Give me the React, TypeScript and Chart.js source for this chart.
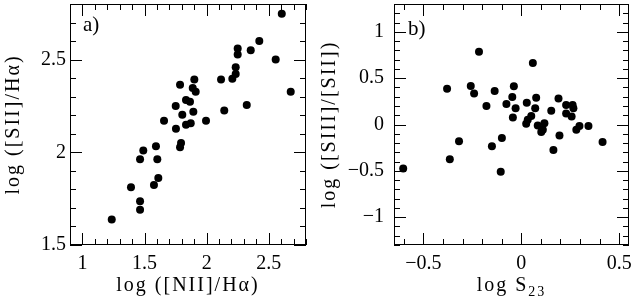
import React, { useEffect, useRef } from "react";
import { Chart, registerables } from "chart.js";

Chart.register(...registerables);

// Panel a) log([NII]/Hα) vs log([SII]/Hα)
const nIIHa = [
  2.605, 2.424, 2.355, 2.25, 2.25, 2.556, 2.234, 2.234, 2.207, 2.116,
  2.677, 1.901, 1.786, 1.888, 1.912, 1.834, 1.866, 1.751, 1.893, 1.804,
  2.142, 2.323, 1.657, 1.995, 1.753, 1.834, 1.872, 1.794, 1.786, 1.592,
  1.49, 1.464, 1.603, 1.611, 1.576, 1.391, 1.464, 1.464, 1.236,
];
const sIIHa = [
  2.747, 2.601, 2.551, 2.56, 2.527, 2.5, 2.459, 2.423, 2.397, 2.393,
  2.326, 2.393, 2.365, 2.347, 2.326, 2.282, 2.273, 2.25, 2.219, 2.202,
  2.225, 2.255, 2.17, 2.17, 2.127, 2.148, 2.157, 2.05, 2.027, 2.033,
  2.01, 1.962, 1.962, 1.861, 1.823, 1.811, 1.736, 1.69, 1.637,
];

// Panel b) log S23 vs log([SIII]/[SII])
const logS23 = [
  -0.216, 0.059, -0.379, -0.258, -0.241, -0.136, -0.038, -0.046, -0.178, -0.076,
  -0.029, 0.028, 0.076, 0.071, 0.051, -0.043, 0.033, 0.025, 0.19, 0.153,
  0.229, 0.262, 0.229, 0.257, 0.266, 0.297, 0.343, 0.281, 0.084, 0.118,
  0.11, 0.102, 0.195, 0.415, 0.164, -0.318, -0.365, -0.603, -0.15, -0.099,
  -0.105,
];
const sIIIsII = [
  0.785, 0.664, 0.387, 0.416, 0.334, 0.362, 0.412, 0.298, 0.199, 0.221,
  0.174, 0.234, 0.288, 0.174, 0.093, 0.075, 0.05, 0.008, 0.28, 0.149,
  0.21, 0.21, 0.12, 0.085, 0.174, -0.016, -0.017, -0.056, -0.011, 0.014,
  -0.056, -0.082, -0.12, -0.189, -0.274, -0.181, -0.376, -0.476, -0.234, -0.146,
  -0.511,
];

const xTicksA = [1, 1.5, 2, 2.5];
const xLabelsA = ["1", "1.5", "2", "2.5"];
const yTicksA = [1.5, 2, 2.5];
const yLabelsA = ["1.5", "2", "2.5"];
const xTicksB = [-0.5, 0, 0.5];
const xLabelsB = ["\u22120.5", "0", "0.5"];
const yTicksB = [-1, -0.5, 0, 0.5, 1];
const yLabelsB = ["\u22121", "\u22120.5", "0", "0.5", "1"];

const FONT = "'Liberation Serif', 'Times New Roman', serif";

const framePlugin = {
  id: "frame",
  afterDraw(chart: any, _args: any, opts: any) {
    const { ctx, chartArea } = chart;
    const { left, right, top, bottom } = chartArea;
    const xs = chart.scales.x;
    const ys = chart.scales.y;
    ctx.save();
    ctx.strokeStyle = "#000";
    ctx.lineWidth = 1;
    ctx.strokeRect(left + 0.5, top + 0.5, right - left - 1, bottom - top - 1);
    const drawAxisTicks = (scale: any, horizontal: boolean) => {
      const step = opts.minor;
      const i0 = Math.ceil(scale.min / step - 1e-6);
      const i1 = Math.floor(scale.max / step + 1e-6);
      for (let i = i0; i <= i1; i++) {
        const v = i * step;
        const q = v / opts.major;
        const isMajor = Math.abs(q - Math.round(q)) < 1e-6;
        const len = isMajor ? opts.majorLen : opts.minorLen;
        const p = Math.round(scale.getPixelForValue(v)) + 0.5;
        ctx.beginPath();
        if (horizontal) {
          ctx.moveTo(p, bottom);
          ctx.lineTo(p, bottom - len);
          ctx.moveTo(p, top);
          ctx.lineTo(p, top + len);
        } else {
          ctx.moveTo(left, p);
          ctx.lineTo(left + len, p);
          ctx.moveTo(right, p);
          ctx.lineTo(right - len, p);
        }
        ctx.stroke();
      }
    };
    drawAxisTicks(xs, true);
    drawAxisTicks(ys, false);

    ctx.fillStyle = "#000";
    // panel label
    ctx.font = `21px ${FONT}`;
    ctx.textBaseline = "middle";
    ctx.textAlign = "left";
    ctx.fillText(opts.label, left + opts.labelDx, top + opts.labelDy);

    // axis titles
    const cx = (left + right) / 2;
    const cy = (top + bottom) / 2;
    (ctx as any).letterSpacing = opts.spacing + "px";
    ctx.font = `${opts.titleSize}px ${FONT}`;
    // x title (with optional subscript)
    ctx.textBaseline = "alphabetic";
    ctx.textAlign = "left";
    const main = opts.xTitle as string;
    const sub = (opts.xSub || "") as string;
    const wMain = ctx.measureText(main).width;
    ctx.font = `${opts.subSize}px ${FONT}`;
    const wSub = sub ? ctx.measureText(sub).width : 0;
    const total = wMain + wSub;
    let x0 = cx - total / 2;
    ctx.font = `${opts.titleSize}px ${FONT}`;
    ctx.fillText(main, x0, opts.xTitleY);
    if (sub) {
      ctx.font = `${opts.subSize}px ${FONT}`;
      ctx.fillText(sub, x0 + wMain, opts.xTitleY + opts.subDy);
    }
    // y title
    ctx.font = `${opts.titleSize}px ${FONT}`;
    ctx.save();
    ctx.translate(opts.yTitleX, cy);
    ctx.rotate(-Math.PI / 2);
    ctx.textAlign = "center";
    ctx.textBaseline = "middle";
    ctx.fillText(opts.yTitle, 0, 0);
    ctx.restore();
    (ctx as any).letterSpacing = "0px";
    ctx.restore();
  },
};

function makeConfig(p: any) {
  const pts = (p.xs as number[]).map((x, i) => ({ x, y: p.ys[i] }));
  const labelFor = (ticks: number[], labels: string[]) => (v: any) => {
    const idx = ticks.findIndex((t) => Math.abs(t - Number(v)) < 1e-9);
    return idx >= 0 ? labels[idx] : "";
  };
  return {
    type: "scatter",
    data: {
      datasets: [
        {
          data: pts,
          pointRadius: 4,
          pointHoverRadius: 4,
          pointBackgroundColor: "#000",
          pointBorderColor: "#000",
          pointBorderWidth: 0,
        },
      ],
    },
    options: {
      animation: false,
      responsive: false,
      maintainAspectRatio: false,
      events: [],
      layout: { padding: { top: 1, right: p.rightPad, left: 0, bottom: 0 } },
      plugins: {
        legend: { display: false },
        tooltip: { enabled: false },
        frame: {
          minor: 0.1,
          major: 0.5,
          minorLen: 6,
          majorLen: 12,
          label: p.label,
          labelDx: p.labelDx,
          labelDy: p.labelDy,
          xTitle: p.xTitle,
          xSub: p.xSub,
          yTitle: p.yTitle,
          titleSize: 20,
          subSize: 14,
          subDy: 5,
          spacing: 2,
          xTitleY: 291,
          yTitleX: p.yTitleX,
        },
      },
      scales: {
        x: {
          type: "linear",
          min: p.xMin,
          max: p.xMax,
          grid: { display: false, drawTicks: false },
          border: { display: false },
          afterBuildTicks: (s: any) => {
            s.ticks = (p.xTicks as number[]).map((v) => ({ value: v }));
          },
          afterFit: (s: any) => {
            s.height = 55;
            s.paddingLeft = 0;
            s.paddingRight = 0;
          },
          ticks: {
            padding: 7,
            color: "#000",
            maxRotation: 0,
            autoSkip: false,
            font: { family: FONT, size: 20 },
            callback: labelFor(p.xTicks, p.xLabels),
          },
          title: { display: false },
        },
        y: {
          type: "linear",
          min: p.yMin,
          max: p.yMax,
          grid: { display: false, drawTicks: false },
          border: { display: false },
          afterBuildTicks: (s: any) => {
            s.ticks = (p.yTicks as number[]).map((v) => ({ value: v }));
          },
          afterFit: (s: any) => {
            s.width = p.yAxisWidth;
            s.paddingTop = 0;
            s.paddingBottom = 0;
          },
          ticks: {
            padding: p.yTickPad,
            color: "#000",
            autoSkip: false,
            font: { family: FONT, size: 20 },
            callback: labelFor(p.yTicks, p.yLabels),
          },
          title: { display: false },
        },
      },
    },
    plugins: [framePlugin],
  } as any;
}

export default function App() {
  const leftRef = useRef<HTMLCanvasElement | null>(null);
  const rightRef = useRef<HTMLCanvasElement | null>(null);

  useEffect(() => {
    const charts: Chart[] = [];
    if (leftRef.current) {
      charts.push(
        new Chart(
          leftRef.current,
          makeConfig({
            xs: nIIHa,
            ys: sIIHa,
            xMin: 0.9,
            xMax: 2.8,
            yMin: 1.5,
            yMax: 2.8,
            xTicks: xTicksA,
            xLabels: xLabelsA,
            yTicks: yTicksA,
            yLabels: yLabelsA,
            xTitle: "log ([NII]/H\u03b1)",
            xSub: "",
            yTitle: "log ([SII]/H\u03b1)",
            yAxisWidth: 70,
            yTickPad: 4,
            yTitleX: 14,
            rightPad: 14,
            label: "a)",
            labelDx: 13,
            labelDy: 21,
          })
        )
      );
    }
    if (rightRef.current) {
      charts.push(
        new Chart(
          rightRef.current,
          makeConfig({
            xs: logS23,
            ys: sIIIsII,
            xMin: -0.65,
            xMax: 0.55,
            yMin: -1.3,
            yMax: 1.3,
            xTicks: xTicksB,
            xLabels: xLabelsB,
            yTicks: yTicksB,
            yLabels: yLabelsB,
            xTitle: "log S",
            xSub: "23",
            yTitle: "log ([SIII]/[SII])",
            yAxisWidth: 74,
            yTickPad: 10,
            yTitleX: 10,
            rightPad: 4,
            label: "b)",
            labelDx: 14,
            labelDy: 25,
          })
        )
      );
    }
    return () => {
      charts.forEach((c) => c.destroy());
    };
  }, []);

  return (
    <div
      style={{
        position: "absolute",
        left: 0,
        top: 0,
        width: 633,
        height: 300,
        background: "#fff",
        overflow: "hidden",
      }}
    >
      <canvas
        ref={leftRef}
        width={320}
        height={300}
        style={{ position: "absolute", left: 0, top: 0, width: 320, height: 300 }}
      />
      <canvas
        ref={rightRef}
        width={313}
        height={300}
        style={{ position: "absolute", left: 320, top: 0, width: 313, height: 300 }}
      />
    </div>
  );
}
